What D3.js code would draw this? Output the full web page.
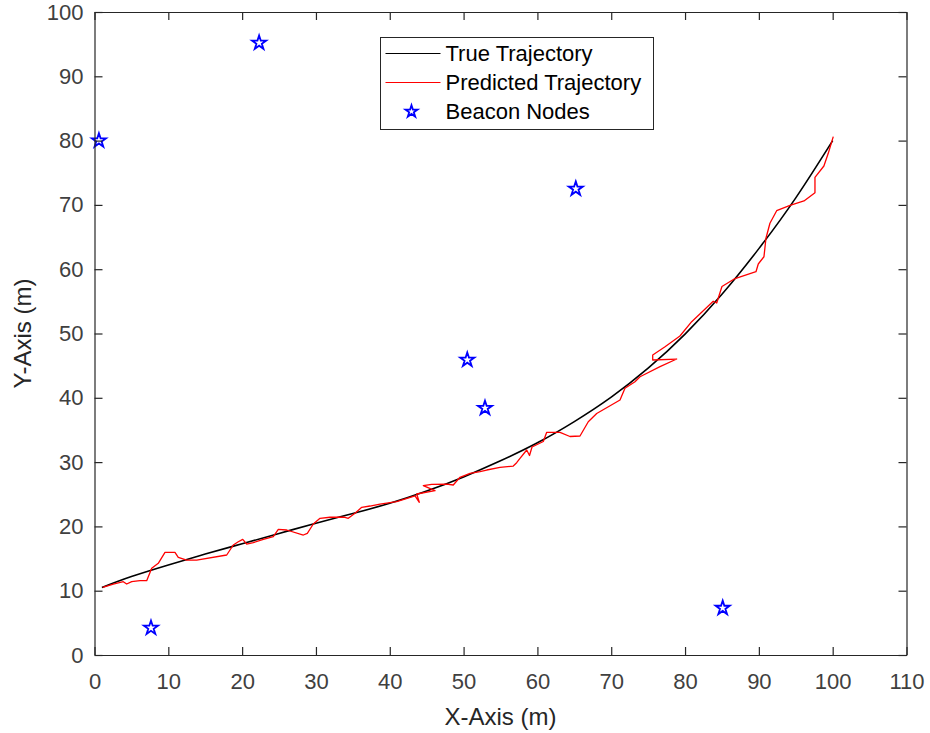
<!DOCTYPE html>
<html>
<head>
<meta charset="utf-8">
<script src="https://cdn.jsdelivr.net/npm/d3@7"></script>
<style>
  body { margin: 0; background: #fff; }
  svg { display: block; font-family: "Liberation Sans", Arial, sans-serif; }
</style>
</head>
<body>
<div id="chart"></div>
<script>
// true trajectory
const trueX = [1, 5, 10, 15, 20, 25, 30, 35, 40, 45, 50, 55, 60, 65, 70, 75, 80, 85, 90, 95, 100];
const trueY = [10.5, 12.2, 14.0, 15.7, 17.3, 18.9, 20.5, 22.0, 23.6, 25.5, 27.7, 30.2, 33.0, 36.3, 40.1, 44.6, 49.9, 56.1, 63.2, 71.1, 80.0];

// predicted trajectory (red), traced point by point
const predX = [1.11, 2.55, 3.90, 4.36, 5.04, 6.16, 7.07, 7.75, 8.64, 9.55, 10.90, 11.35, 12.49, 13.84, 17.91, 18.80, 19.48,
  20.08, 20.62, 21.51, 22.87, 24.22, 24.90, 26.04, 28.29, 28.83, 29.64, 30.55, 31.90, 33.93, 34.38, 35.29, 36.20, 37.32, 38.68,
  40.94, 43.42, 44.00, 43.65, 46.13, 44.54, 45.68, 47.71, 48.60, 49.51, 50.87, 52.22, 53.13, 54.93, 56.73, 57.19, 57.64,
  58.55, 58.93, 59.27, 60.80, 61.26, 63.06, 64.41, 65.77, 66.89, 68.03, 71.19, 71.86, 73.22, 73.90, 76.61, 78.87, 75.62, 75.62,
  77.29, 79.31, 80.90, 83.82, 84.29, 85.00, 86.77, 89.61, 89.92, 90.69, 90.96, 91.50, 92.41, 94.22, 96.11, 97.60, 97.60, 98.81, 99.40, 100.08];
const predY = [10.53, 11.04, 11.40, 11.04, 11.40, 11.56, 11.56, 13.48, 14.26, 15.97, 15.97, 15.19, 14.77, 14.77, 15.55, 17.11, 17.62,
  17.99, 17.26, 17.47, 17.99, 18.40, 19.55, 19.44, 18.66, 18.93, 20.37, 21.26, 21.42, 21.42, 21.26, 22.04, 22.97, 23.17, 23.48,
  23.84, 24.73, 23.75, 25.04, 25.55, 26.33, 26.55, 26.59, 26.44, 27.64, 28.26, 28.51, 28.77, 29.19, 29.39, 29.91, 30.59,
  31.88, 31.03, 32.35, 33.20, 34.63, 34.63, 33.98, 34.06, 36.28, 37.56, 39.66, 41.48, 42.50, 43.28, 44.84, 46.03, 45.88, 46.66,
  47.95, 49.61, 51.84, 55.01, 54.74, 57.31, 58.55, 59.61, 60.81, 61.94, 64.81, 67.14, 69.10, 69.94, 70.61, 71.90, 74.29, 76.05, 78.02, 80.61];

// beacon nodes
const beaconX = [0.6, 22.3, 7.65, 50.5, 52.9, 65.2, 85.1];
const beaconY = [80.0, 95.2, 4.2, 45.9, 38.4, 72.5, 7.3];

const xTicks = [0, 10, 20, 30, 40, 50, 60, 70, 80, 90, 100, 110];
const yTicks = [0, 10, 20, 30, 40, 50, 60, 70, 80, 90, 100];
const legendLabels = ["True Trajectory", "Predicted Trajectory", "Beacon Nodes"];

const width = 930, height = 733;
const margin = { top: 12, right: 23.5, bottom: 78, left: 94.5 };
const axisColor = "#262626";

const svg = d3.select("#chart").append("svg")
  .attr("width", width)
  .attr("height", height);

const x = d3.scaleLinear().domain([0, 110]).range([margin.left, width - margin.right]);
const y = d3.scaleLinear().domain([0, 100]).range([height - margin.bottom, margin.top]);

const trueData = trueX.map((v, i) => [v, trueY[i]]);
const predData = predX.map((v, i) => [v, predY[i]]);
const beacons = beaconX.map((v, i) => [v, beaconY[i]]);

// lines
svg.append("path")
  .datum(trueData)
  .attr("fill", "none")
  .attr("stroke", "#000")
  .attr("stroke-width", 1.6)
  .attr("d", d3.line().x(d => x(d[0])).y(d => y(d[1])).curve(d3.curveNatural));

svg.append("path")
  .datum(predData)
  .attr("fill", "none")
  .attr("stroke", "#ff0000")
  .attr("stroke-width", 1.3)
  .attr("stroke-linejoin", "round")
  .attr("d", d3.line().x(d => x(d[0])).y(d => y(d[1])));

const star = d3.symbol().type(d3.symbolStar).size(62);
svg.selectAll(".beacon")
  .data(beacons)
  .enter()
  .append("path")
  .attr("class", "beacon")
  .attr("d", star)
  .attr("transform", d => `translate(${x(d[0])},${y(d[1])})`)
  .attr("fill", "none")
  .attr("stroke", "#0000ff")
  .attr("stroke-width", 1.8);

// axes
const tickLen = 8;
const xAxis = svg.append("g")
  .attr("transform", `translate(0,${y(0)})`)
  .call(d3.axisBottom(x).tickValues(xTicks).tickSizeInner(-tickLen).tickSizeOuter(0).tickPadding(18));
const xTop = svg.append("g")
  .attr("transform", `translate(0,${y(100)})`)
  .call(d3.axisTop(x).tickValues(xTicks).tickSizeInner(-tickLen).tickSizeOuter(0).tickFormat(""));
const yAxis = svg.append("g")
  .attr("transform", `translate(${x(0)},0)`)
  .call(d3.axisLeft(y).tickValues(yTicks).tickSizeInner(-tickLen).tickSizeOuter(0).tickPadding(11));
const yRight = svg.append("g")
  .attr("transform", `translate(${x(110)},0)`)
  .call(d3.axisRight(y).tickValues(yTicks).tickSizeInner(-tickLen).tickSizeOuter(0).tickFormat(""));

[xAxis, xTop, yAxis, yRight].forEach(g => {
  g.selectAll("path, line").attr("stroke", axisColor).attr("stroke-width", 1.2);
  g.selectAll("text").attr("fill", "#404040").style("font-size", "22px")
    .style("font-family", "'Liberation Sans', Arial, sans-serif");
});

// axis labels
svg.append("text")
  .attr("x", x(55))
  .attr("y", 725)
  .attr("text-anchor", "middle")
  .attr("fill", "#262626")
  .style("font-size", "24px")
  .text("X-Axis (m)");

svg.append("text")
  .attr("transform", `translate(31,${y(50)}) rotate(-90)`)
  .attr("text-anchor", "middle")
  .attr("fill", "#262626")
  .style("font-size", "24px")
  .text("Y-Axis (m)");

// legend
const legend = svg.append("g").attr("transform", "translate(380.5,37.5)");
legend.append("rect")
  .attr("width", 273)
  .attr("height", 92)
  .attr("fill", "#fff")
  .attr("stroke", axisColor)
  .attr("stroke-width", 1);

const rowY = [16, 45, 74];
legend.append("line").attr("x1", 5).attr("x2", 60).attr("y1", rowY[0]).attr("y2", rowY[0])
  .attr("stroke", "#000").attr("stroke-width", 1.2);
legend.append("line").attr("x1", 5).attr("x2", 60).attr("y1", rowY[1]).attr("y2", rowY[1])
  .attr("stroke", "#ff0000").attr("stroke-width", 1.2);
legend.append("path").attr("d", d3.symbol().type(d3.symbolStar).size(45))
  .attr("transform", `translate(31,${rowY[2]})`)
  .attr("fill", "none").attr("stroke", "#0000ff").attr("stroke-width", 1.8);

legend.selectAll(".leg-text")
  .data(legendLabels)
  .enter()
  .append("text")
  .attr("x", 65)
  .attr("y", (d, i) => rowY[i])
  .attr("dy", "0.36em")
  .attr("fill", "#000")
  .style("font-size", "22px")
  .text(d => d);
</script>
</body>
</html>
